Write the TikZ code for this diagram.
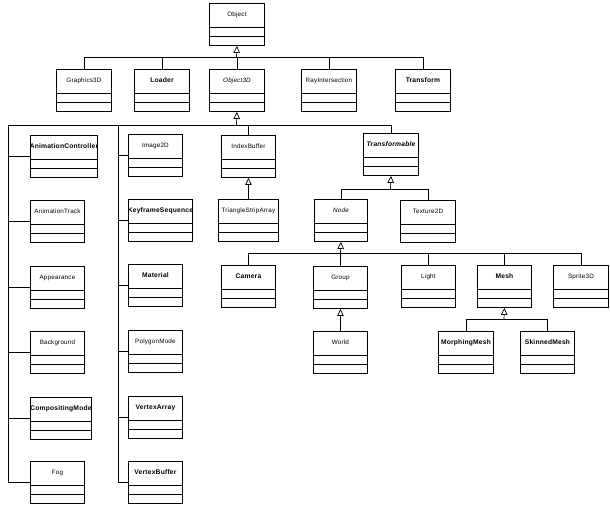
\documentclass[tikz,border=0pt]{standalone}
\usepackage{fontspec}
\setmainfont{Liberation Sans}[LetterSpace=3]
\usetikzlibrary{arrows.meta}
\newcommand\clsname[1]{\makebox[0pt]{#1}}
\begin{document}
\begin{tikzpicture}[x=1pt,y=-1pt,
  cls/.style={draw, line width=0.9pt, rectangle, anchor=north west,
    inner xsep=0pt, inner ysep=0pt, text height=13.5pt, text depth=28.5pt,
    minimum height=42pt, font=\fontsize{6.3}{7}\selectfont,
    path picture={
      \draw[line width=0.9pt] ([yshift=-24pt]path picture bounding box.north west) -- ([yshift=-24pt]path picture bounding box.north east);
      \draw[line width=0.9pt] ([yshift=-33pt]path picture bounding box.north west) -- ([yshift=-33pt]path picture bounding box.north east);}},
  clsb/.style={cls, font=\fontsize{6.7}{7}\selectfont\bfseries},
  clsi/.style={cls, font=\fontsize{6.3}{7}\selectfont\itshape},
  clsbi/.style={cls, font=\fontsize{6.7}{7}\selectfont\bfseries\itshape},
  conn/.style={line width=0.7pt},
  inh/.style={line width=0.7pt, -{Triangle[open,length=7pt,width=6.5pt]}}]
\useasboundingbox (0,0) rectangle (610,504);
% top
\node[cls,  minimum width=55pt] (Object) at (209,3) {\clsname{Object}};
\node[cls,  minimum width=55pt] (Graphics3D) at (56,69) {\clsname{Graphics3D}};
\node[clsb, minimum width=55pt] (Loader) at (134,69) {\clsname{Loader}};
\node[clsi, minimum width=55pt] (Object3D) at (209,69) {\clsname{Object3D}};
\node[cls,  minimum width=55pt] (RayIntersection) at (301,69) {\clsname{RayIntersection}};
\node[clsb, minimum width=55pt] (Transform) at (395,69) {\clsname{Transform}};
% column A
\node[clsb, minimum width=67pt] (AnimationController) at (30,135) {\clsname{AnimationController}};
\node[cls,  minimum width=54pt] (AnimationTrack) at (30,200) {\clsname{AnimationTrack}};
\node[cls,  minimum width=54pt] (Appearance) at (30,266) {\clsname{Appearance}};
\node[cls,  minimum width=54pt] (Background) at (30,331) {\clsname{Background}};
\node[clsb, minimum width=61pt] (CompositingMode) at (30,397) {\clsname{CompositingMode}};
\node[cls,  minimum width=54pt] (Fog) at (30,461) {\clsname{Fog}};
% column B
\node[cls,  minimum width=54pt] (Image2D) at (128,134) {\clsname{Image2D}};
\node[clsb, minimum width=64pt] (KeyframeSequence) at (128,199) {\clsname{KeyframeSequence}};
\node[clsb, minimum width=54pt] (Material) at (128,264) {\clsname{Material}};
\node[cls,  minimum width=54pt] (PolygonMode) at (128,330) {\clsname{PolygonMode}};
\node[clsb, minimum width=54pt] (VertexArray) at (128,396) {\clsname{VertexArray}};
\node[clsb, minimum width=54pt] (VertexBuffer) at (128,461) {\clsname{VertexBuffer}};
% middle
\node[cls,  minimum width=54pt] (IndexBuffer) at (221,135) {\clsname{IndexBuffer}};
\node[cls,  minimum width=60pt] (TriangleStripArray) at (218,199) {\clsname{TriangleStripArray}};
\node[clsbi,minimum width=55pt] (Transformable) at (363,133) {\clsname{Transformable}};
\node[clsi, minimum width=53pt] (Node) at (314,199) {\clsname{Node}};
\node[cls,  minimum width=55pt] (Texture2D) at (400,200) {\clsname{Texture2D}};
% scene row
\node[clsb, minimum width=54pt] (Camera) at (221,265) {\clsname{Camera}};
\node[cls,  minimum width=54pt] (Group) at (313,266) {\clsname{Group}};
\node[cls,  minimum width=54pt] (Light) at (401,265) {\clsname{Light}};
\node[clsb, minimum width=54pt] (Mesh) at (477,265) {\clsname{Mesh}};
\node[cls,  minimum width=55pt] (Sprite3D) at (553,265) {\clsname{Sprite3D}};
% bottom
\node[cls,  minimum width=54pt] (World) at (313,331) {\clsname{World}};
\node[clsb, minimum width=55pt] (MorphingMesh) at (438,331) {\clsname{MorphingMesh}};
\node[clsb, minimum width=54pt] (SkinnedMesh) at (520,331) {\clsname{SkinnedMesh}};
% junctions
\coordinate (j1) at (236.5,57);
\coordinate (j2) at (236.5,125);
\coordinate (colA) at (8,125);
\coordinate (colB) at (118,125);
\coordinate (j3) at (390.5,189);
\coordinate (j4) at (340.5,253);
\coordinate (j5) at (504,319);
% Object
\draw[inh] (j1) -- (Object.south);
\foreach \n in {Graphics3D,Loader,Object3D,RayIntersection,Transform}
  \draw[conn] (\n.north) |- (j1);
% Object3D
\draw[inh] (j2) -- (Object3D.south);
\draw[conn] (Fog.west) -| (colA) -- (j2);
\draw[conn] (VertexBuffer.west) -| (colB);
\foreach \n in {AnimationController,AnimationTrack,Appearance,Background,CompositingMode}
  \draw[conn] (\n.west) -- (\n.west -| colA);
\foreach \n in {Image2D,KeyframeSequence,Material,PolygonMode,VertexArray}
  \draw[conn] (\n.west) -- (\n.west -| colB);
\draw[conn] (IndexBuffer.north) |- (j2);
\draw[conn] (Transformable.north) |- (j2);
% IndexBuffer
\draw[inh] (TriangleStripArray.north) -- (IndexBuffer.south);
% Transformable
\draw[inh] (j3) -- (Transformable.south);
\draw[conn] (Node.north) |- (j3);
\draw[conn] (Texture2D.north) |- (j3);
% Node
\draw[inh] (j4) -- (Node.south);
\foreach \n in {Camera,Group,Light,Mesh,Sprite3D}
  \draw[conn] (\n.north) |- (j4);
% Group
\draw[inh] (World.north) -- (Group.south);
% Mesh
\draw[inh] (j5) -- (Mesh.south);
\draw[conn] (MorphingMesh.north) |- (j5);
\draw[conn] (SkinnedMesh.north) |- (j5);
\end{tikzpicture}
\end{document}
